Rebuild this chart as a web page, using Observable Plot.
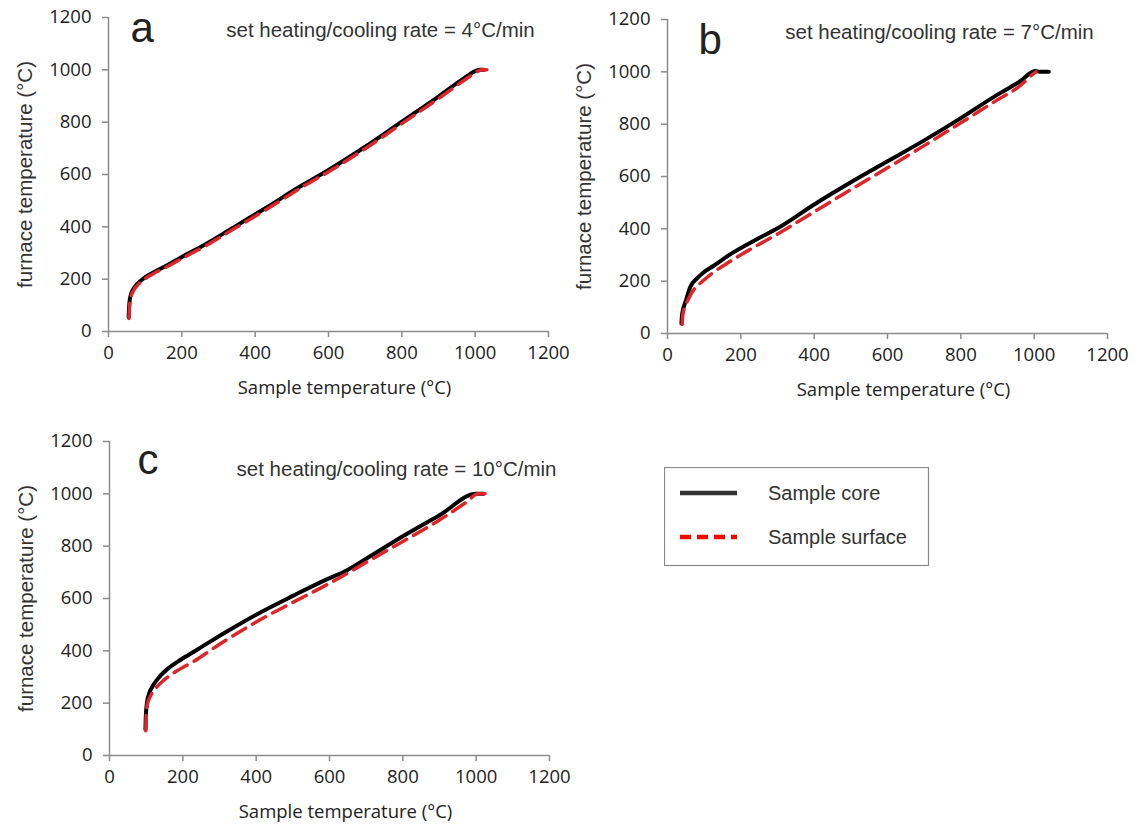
<!DOCTYPE html>
<html><head><meta charset="utf-8">
<script src="https://cdn.jsdelivr.net/npm/d3@7"></script>
<script src="https://cdn.jsdelivr.net/npm/@observablehq/plot@0.6"></script>
<style>
body{margin:0;background:#fff;}
#wrap{position:relative;width:1144px;height:827px;overflow:hidden;background:#fff;}
.panel{position:absolute;}
#legend{position:absolute;left:664px;top:467px;}
</style></head><body><div id="wrap"></div>
<script>
// ---- data (sample temperature °C, furnace temperature °C) ----
const xTicks = [0, 200, 400, 600, 800, 1000, 1200];
const yTicks = [0, 200, 400, 600, 800, 1000, 1200];
const xLabel = "Sample temperature (°C)";
const yLabel = "furnace temperature (°C)";
const seriesNames = ["Sample core", "Sample surface"];

const coreA = [[55,55],[56,90],[59,130],[66,158],[78,181],[95,202],[115,220],[160,253],[200,285],[250,322],[340,397],[430,473],[520,552],[600,617],[700,706],[800,802],[900,898],[970,968],[1000,995],[1012,1000],[1025,1000]];
const surfA = [[56,50],[57,90],[61,130],[69,158],[82,181],[100,202],[121,220],[167,253],[208,285],[258,322],[348,397],[438,473],[528,552],[608,617],[708,706],[808,802],[908,898],[978,968],[1005,993],[1018,1000],[1032,1000]];

const coreB = [[38,38],[40,75],[50,125],[62,178],[80,210],[100,235],[125,258],[175,306],[246,362],[300,402],[400,493],[500,578],[600,658],[700,738],[800,823],[900,913],[960,962],[1003,1003],[1015,1000],[1040,1000]];
const surfB = [[40,35],[42,75],[50,110],[60,140],[72,168],[90,193],[120,228],[170,275],[230,325],[300,380],[400,465],[500,550],[600,633],[700,718],[800,805],[900,893],[960,945],[1000,995],[1005,1000]];

const coreC = [[98,100],[99,150],[102,200],[107,232],[120,270],[139,305],[160,333],[194,366],[240,405],[280,440],[340,490],[400,538],[500,610],[600,678],[640,702],[700,752],[800,838],[900,918],[1000,1000],[1020,1000]];
const surfC = [[99,95],[100,150],[103,194],[110,222],[125,255],[150,290],[180,320],[230,360],[300,425],[400,510],[500,585],[600,658],[700,738],[800,818],[900,900],[975,970],[1005,1000],[1045,1000]];

const panels = [
  {letter:"a", title:"set heating/cooling rate = 4°C/min", core:coreA, surf:surfA, left:0, top:0, lx:22, ly:10.6, tx:272, ty:12.6},
  {letter:"b", title:"set heating/cooling rate = 7°C/min", core:coreB, surf:surfB, left:559, top:1.5, lx:31, ly:21, tx:272, ty:13},
  {letter:"c", title:"set heating/cooling rate = 10°C/min", core:coreC, surf:surfC, left:1, top:423.5, lx:28, ly:19, tx:287, ty:28}
];

const wrap = document.getElementById("wrap");
const AX = "#8c8c8c";
const fmt = d3.format("d");
const ARIAL = "'Liberation Sans', Arial, sans-serif";

for (const p of panels) {
  const chart = Plot.plot({
    width: 572, height: 410,
    marginLeft: 108, marginRight: 24, marginTop: 17, marginBottom: 79,
    style: {fontFamily: "'Open Sans', sans-serif", fontSize: "18px", color: "#222", background: "transparent", overflow: "visible"},
    x: {domain: [0, 1200], label: null},
    y: {domain: [0, 1200], label: null},
    marks: [
      Plot.ruleY([0], {stroke: AX, strokeWidth: 1.5}),
      Plot.ruleX([0], {stroke: AX, strokeWidth: 1.5}),
      Plot.axisX({ticks: xTicks, tickSize: 6, tickPadding: 8, stroke: AX, strokeWidth: 1.5, fill: "#222", tickFormat: fmt, label: null, fontSize: 18.5}),
      Plot.axisY({ticks: yTicks, tickSize: 6, tickPadding: 11, stroke: AX, strokeWidth: 1.5, fill: "#222", tickFormat: fmt, label: null, fontSize: 18.5}),
      Plot.line(p.core, {x: d => d[0], y: d => d[1], stroke: "#000", strokeWidth: 4, curve: "monotone-x"}),
      Plot.line(p.surf, {x: d => d[0], y: d => d[1], stroke: "#dd262b", strokeWidth: 3.5, strokeDasharray: "15,8", curve: "monotone-x"}),
      Plot.text([p.letter], {text: d => d, frameAnchor: "top-left", textAnchor: "start", lineAnchor: "middle", dx: p.lx, dy: p.ly, fontSize: 42, fontFamily: ARIAL, fill: "#222"}),
      Plot.text([p.title], {text: d => d, frameAnchor: "top-left", textAnchor: "middle", lineAnchor: "middle", dx: p.tx, dy: p.ty, fontSize: 20.5, fontFamily: ARIAL, fill: "#333"}),
      Plot.text([xLabel], {text: d => d, frameAnchor: "bottom", textAnchor: "middle", lineAnchor: "middle", dx: 16, dy: 57, fontSize: 18.5, fill: "#222"}),
      Plot.text([yLabel], {text: d => d, frameAnchor: "left", textAnchor: "middle", lineAnchor: "middle", rotate: -90, dx: -83, fontSize: 20.5, fontFamily: ARIAL, fill: "#333"})
    ]
  });
  chart.classList.add("panel");
  chart.style.left = p.left + "px";
  chart.style.top = p.top + "px";
  wrap.appendChild(chart);
}

// legend
const lg = d3.select(wrap).append("svg").attr("id", "legend")
  .attr("width", 266).attr("height", 100);
lg.append("rect").attr("x", 0.5).attr("y", 0.5).attr("width", 264).attr("height", 98)
  .attr("fill", "#fff").attr("stroke", "#8a8a8a").attr("stroke-width", 1.2);
const lgStyles = [
  {stroke: "#333", dash: null, y: 26},
  {stroke: "#ff0000", dash: "11,6", y: 70}
];
seriesNames.forEach((name, i) => {
  const s = lgStyles[i];
  const ln = lg.append("line").attr("x1", 16).attr("x2", 73).attr("y1", s.y).attr("y2", s.y)
    .attr("stroke", s.stroke).attr("stroke-width", 4.5);
  if (s.dash) ln.attr("stroke-dasharray", s.dash);
  lg.append("text").attr("x", 104).attr("y", s.y + 7).text(name)
    .attr("font-family", ARIAL).attr("font-size", 20).attr("fill", "#333");
});
</script></body></html>
